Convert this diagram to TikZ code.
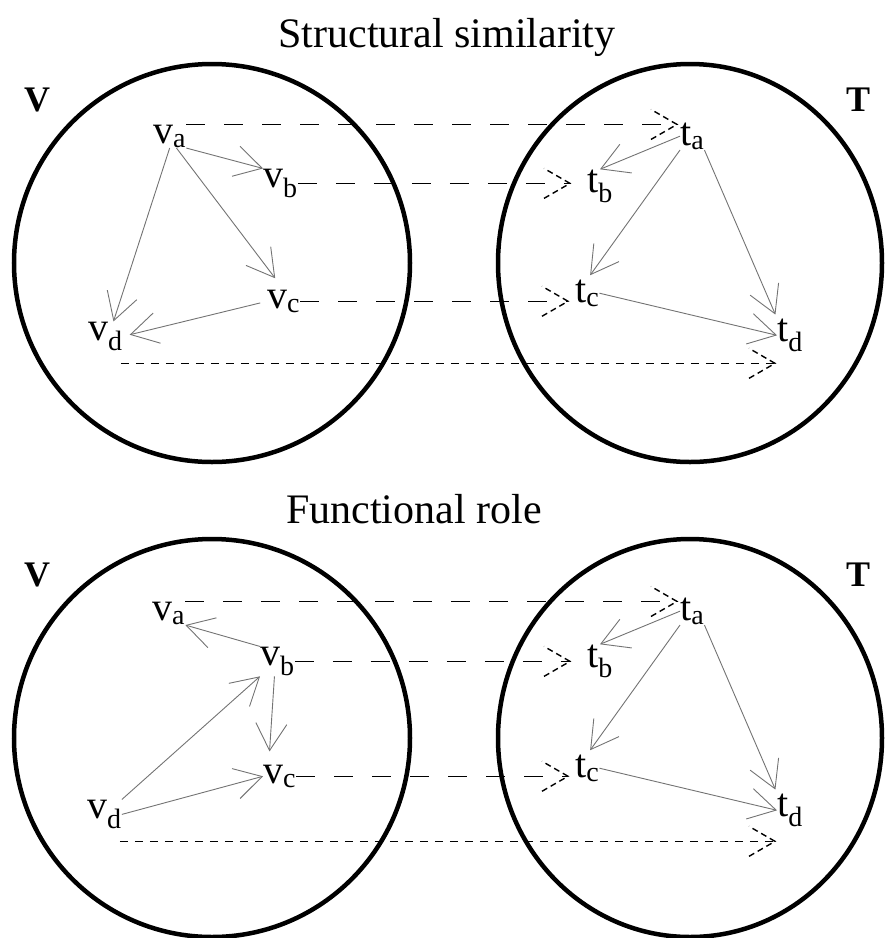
\documentclass[tikz,border=0pt]{standalone}
\usepackage{fontspec}
\setmainfont{Liberation Serif}
\usetikzlibrary{arrows.meta,calc,decorations.markings}

\begin{document}
\begin{tikzpicture}[x=1pt,y=-1pt,
  ring/.style={line width=4.5pt},
  lbl/.style={inner sep=0pt,anchor=base west,font=\fontsize{40}{40}\selectfont},
  side/.style={font=\fontsize{36}{36}\selectfont\bfseries},
  ttl/.style={anchor=base,font=\fontsize{42}{42}\selectfont},
  edge/.style={draw=black!55,line width=0.9pt,-{Straight Barb[length=27pt,width=31pt]}},
  barb/.style={postaction={decorate},decoration={markings,
    mark=at position 1 with {\draw[dash pattern=on 6pt off 4pt] (-26pt,-15pt)--(0pt,0pt)--(-26pt,15pt);}}},
  map/.style={line width=1.4pt,dash pattern=on 19pt off 19pt,barb},
  mapfine/.style={line width=1.4pt,dash pattern=on 8pt off 7pt,barb}]
\useasboundingbox (0,0) rectangle (885,938);
\node[ttl] (ttl1) at (447,47) {Structural similarity};
\node[ttl] (ttl2) at (414,523) {Functional role};
% both panels: circles, side letters, target graph T
\foreach \p/\dy in {1/0,2/475}{
  \draw[ring] (212,263+\dy) ellipse [x radius=198pt,y radius=199pt];
  \draw[ring] (690,263+\dy) ellipse [x radius=192pt,y radius=199pt];
  \node[side] (V\p) at (37,100+\dy) {V};
  \node[side] (T\p) at (858,100+\dy) {T};
  \node[lbl] (ta\p) at (680,145+\dy) {t\textsubscript{a}};
  \node[lbl] (tb\p) at (587,192+\dy) {t\textsubscript{b}};
  \node[lbl] (tc\p) at (575,302+\dy) {t\textsubscript{c}};
  \node[lbl] (td\p) at (777,341+\dy) {t\textsubscript{d}};
  \draw[edge] (ta\p.west) -- (tb\p.north);
  \draw[edge,shorten >=5pt] (ta\p.south west) -- (tc\p.north);
  \draw[edge,shorten >=4pt] (ta\p.south east) -- (td\p.north west);
  \draw[edge] (tc\p.east) -- (td\p.west);
}
% structural similarity, graph V
\node[lbl] (va1) at (153,143) {v\textsubscript{a}};
\node[lbl] (vb1) at (263,187) {v\textsubscript{b}};
\node[lbl] (vc1) at (267,308) {v\textsubscript{c}};
\node[lbl] (vd1) at (88,340) {v\textsubscript{d}};
\draw[edge] (va1.south east) -- (vb1.north west);
\draw[edge,shorten >=14pt] (va1.-60) -- (vc1.north);
\draw[edge] (va1.south) -- ([xshift=8pt]vd1.north);
\draw[edge,shorten <=7pt,shorten >=7pt] (vc1.west) -- (vd1.east);
% functional role, graph V
\node[lbl] (va2) at (152,620) {v\textsubscript{a}};
\node[lbl] (vb2) at (260,665) {v\textsubscript{b}};
\node[lbl] (vc2) at (263,783) {v\textsubscript{c}};
\node[lbl] (vd2) at (87,818) {v\textsubscript{d}};
\draw[edge] (vb2.north west) -- (va2.south east);
\draw[edge] (vd2.north east) -- (vb2.south west);
\draw[edge,shorten >=13pt] ([xshift=-3pt]vb2.south) -- ([xshift=-11pt]vc2.north);
\draw[edge] (vd2.east) -- (vc2.west);
% mappings V -> T
\foreach \p in {1,2}{
  \draw[map] (va\p.north east) -- ($(va\p.north east -| ta\p.west)+(-3,0)$);
  \draw[map] (vb\p.east) -- ($(vb\p.east -| tb\p.west)+(-17,0)$);
  \draw[map] (vc\p.east) -- ($(vc\p.east -| tc\p.west)+(-7,0)$);
  \draw[mapfine] ($(vd\p.south east)+(-2,12)$) -- ($(vd\p.south east -| td\p.west)+(-2,12)$);
}
\end{tikzpicture}
\end{document}
